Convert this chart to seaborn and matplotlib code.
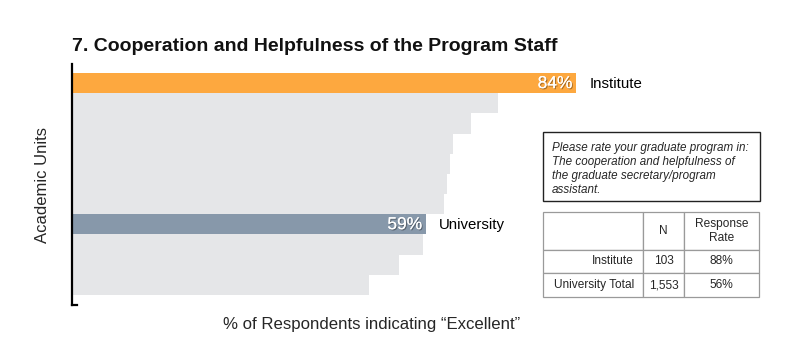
import matplotlib
matplotlib.use("Agg")
import matplotlib.pyplot as plt
import matplotlib.patheffects as pe
import seaborn as sns
import pandas as pd

# ---- data ----
units = ["Institute", "Unit 2", "Unit 3", "Unit 4", "Unit 5", "Unit 6", "Unit 7",
         "University", "Unit 9", "Unit 10", "Unit 11"]
pct_excellent = [84, 71, 66.5, 63.5, 63, 62.5, 62, 59, 58.5, 54.5, 49.5]
highlight = {"Institute": "#FDA83F", "University": "#8798AA"}
other_color = "#E5E6E8"

table_rows = ["Institute", "University Total"]
table_n = ["103", "1,553"]
table_rate = ["88%", "56%"]
table_header = ["", "N", "Response\nRate"]

question = ("Please rate your graduate program in:\nThe cooperation and helpfulness of\n"
            "the graduate secretary/program\nassistant.")
title = "7. Cooperation and Helpfulness of the Program Staff"
xlabel = "% of Respondents indicating \u201cExcellent\u201d"
ylabel = "Academic Units"

sns.set_theme(style="white")
plt.rcParams['font.family'] = ['Liberation Sans', 'DejaVu Sans']

df = pd.DataFrame({"unit": units, "pct": pct_excellent})
palette = {u: highlight.get(u, other_color) for u in units}

fig = plt.figure(figsize=(8, 3.6), dpi=100)
ax = fig.add_axes([0.09, 0.153, 0.75, 0.669])
sns.barplot(data=df, x="pct", y="unit", hue="unit", palette=palette, order=units,
            hue_order=units, width=1.0, saturation=1, legend=False, ax=ax,
            linewidth=0, orient="h")
ax.set_xlim(0, 100)
ax.set_ylim(11.0, -0.95)
ax.set_xticks([])
ax.set_yticks([])
ax.set_xlabel("")
ax.set_ylabel("")
for s in ["top", "right"]:
    ax.spines[s].set_visible(False)
ax.spines["left"].set_color("black")
ax.spines["left"].set_linewidth(1.6)
ax.spines["bottom"].set_color("black")
ax.spines["bottom"].set_linewidth(1.6)
ax.spines["bottom"].set_bounds(0, 0.8)

shadow = [pe.withSimplePatchShadow(offset=(0.8, -0.8), shadow_rgbFace="black", alpha=0.35), pe.Normal()]
for i, (u, v) in enumerate(zip(units, pct_excellent)):
    if u in highlight:
        ax.text(v - 0.6, i + 0.02, f"{v:.0f}%", ha="right", va="center", color="white",
                fontsize=12.5, path_effects=shadow)
        ax.text(v + 2.2, i + 0.02, u, ha="left", va="center", color="black", fontsize=10.8)

fig.text(0.09, 0.872, title, fontsize=14.0, fontweight="bold", ha="left", va="center", color="#111111")
fig.text(0.053, 0.487, ylabel, rotation=90, fontsize=12, ha="center", va="center")
fig.text(0.465, 0.1, xlabel, fontsize=12.1, ha="center", va="center")

# question box
fig.patches.append(plt.Rectangle((543 / 800, 1 - 201 / 360), 217 / 800, 69 / 360,
                                 transform=fig.transFigure, fill=False, edgecolor="#222222",
                                 linewidth=1.0))
fig.text(552 / 800, 1 - 142.5 / 360, question, fontsize=8.4, style="italic", ha="left", va="top",
         linespacing=1.22)

# table
tbl_ax = fig.add_axes([543 / 800, 1 - 297 / 360, 216 / 800, 85 / 360])
tbl_ax.axis("off")
cells = [table_header] + [[r, n, rt] for r, n, rt in zip(table_rows, table_n, table_rate)]
tbl = tbl_ax.table(cellText=cells, bbox=[0, 0, 1, 1], colWidths=[100, 41, 75],
                   cellLoc="center")
tbl.auto_set_font_size(False)
heights = [38 / 85, 23 / 85, 24 / 85]
for (r, c), cell in tbl.get_celld().items():
    cell.set_edgecolor("#9a9a9a")
    cell.set_linewidth(0.9)
    cell.set_height(heights[r])
    cell.get_text().set_fontsize(8.6)
    if r == 0:
        cell.get_text().set_linespacing(1.3)
    if c == 0 and r > 0:
        cell.get_text().set_horizontalalignment("right")
        cell._loc = "right"
        cell.PAD = 0.09

fig.savefig("out.png", dpi=100)
